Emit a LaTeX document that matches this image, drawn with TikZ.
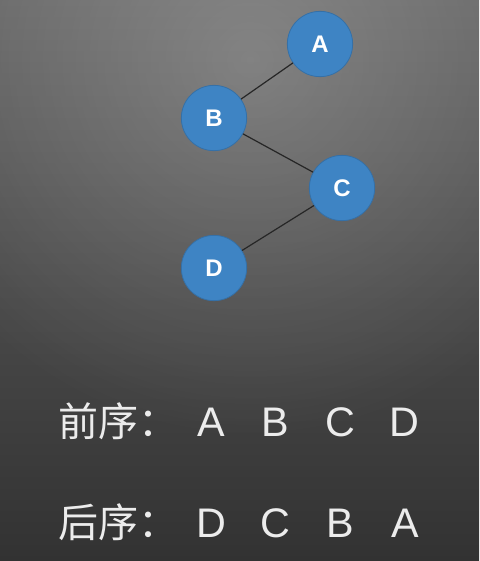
\documentclass[tikz,border=0pt]{standalone}
\usepackage{fontspec}
\setmainfont{Liberation Sans}
\newfontfamily\cjk{Noto Sans CJK SC}
\usepackage{tikz}
\usetikzlibrary{fadings}

\definecolor{bgtop}{RGB}{100,100,100}
\definecolor{bgbot}{RGB}{50,50,50}
\definecolor{nodeblue}{RGB}{62,132,196}
\definecolor{edgegray}{RGB}{38,38,38}
\definecolor{textwhite}{RGB}{236,236,236}
\tikzfading[name=glow, inner color=transparent!0, outer color=transparent!100]

\begin{document}
\begin{tikzpicture}[x=0.75pt,y=0.75pt,yscale=-1,xscale=1,
  treenode/.style={circle,fill=nodeblue,draw=nodeblue!85!black,line width=0.6pt,
    minimum size=49pt,inner sep=0pt,text=white,font=\fontsize{18}{20}\selectfont\bfseries},
  orderlabel/.style={anchor=base west,inner sep=0pt,text=textwhite,
    font=\cjk\fontsize{30}{36}\selectfont},
  orderitem/.style={anchor=base,inner sep=0pt,text=textwhite,
    font=\fontsize{31}{36}\selectfont}]
\useasboundingbox (0,0) rectangle (479,561);

%Background
\shade [top color=bgtop, bottom color=bgbot] (0,0) rectangle (479,561);
\begin{scope}
\clip (0,0) rectangle (479,561);
\fill [white, fill opacity=0.22, path fading=glow] (250,60) circle (380);
\end{scope}

%Tree nodes
\node [treenode] (A) at (320,44) {A};
\node [treenode] (B) at (214,118) {B};
\node [treenode] (C) at (342,188) {C};
\node [treenode] (D) at (214,268) {D};

%Straight Lines
\draw [edgegray,line width=0.9pt] (A) -- (B) ;
\draw [edgegray,line width=0.9pt] (B) -- (C) ;
\draw [edgegray,line width=0.9pt] (C) -- (D) ;

% Text Node
\node [orderlabel] (pre) at (58,436) {前序：};
% Text Node
\node [orderitem] (pre1) at (211,436) {A};
\node [orderitem] (pre2) at (275,436) {B};
\node [orderitem] (pre3) at (340,436) {C};
\node [orderitem] (pre4) at (404,436) {D};

% Text Node
\node [orderlabel] (post) at (58,537) {后序：};
% Text Node
\node [orderitem] (post1) at (211,537) {D};
\node [orderitem] (post2) at (275,537) {C};
\node [orderitem] (post3) at (340,537) {B};
\node [orderitem] (post4) at (405,537) {A};

\end{tikzpicture}
\end{document}
